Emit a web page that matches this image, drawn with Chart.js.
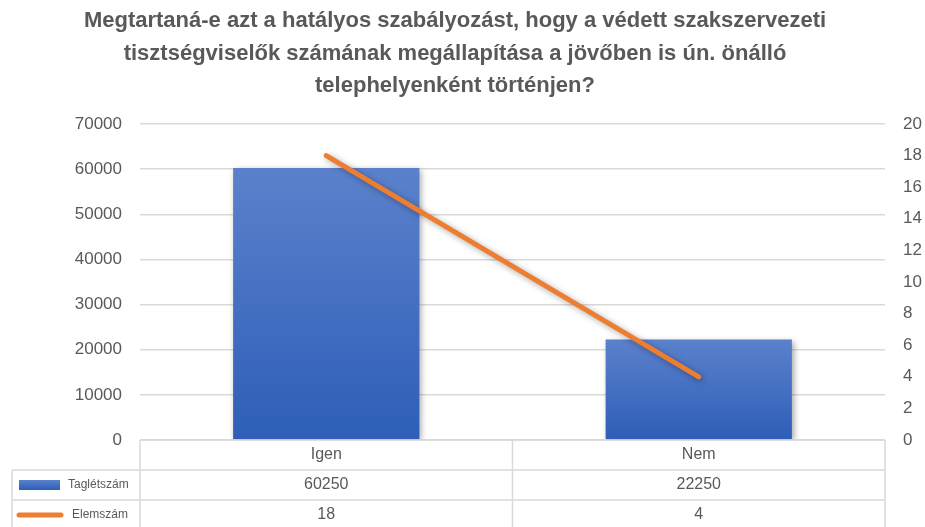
<!DOCTYPE html>
<html>
<head>
<meta charset="utf-8">
<script src="https://cdn.jsdelivr.net/npm/chart.js@4.4.1/dist/chart.umd.min.js"></script>
<style>
  html, body { margin: 0; padding: 0; background: #fff; }
  #wrap { width: 925px; height: 527px; }
</style>
</head>
<body>
<div id="wrap"><canvas id="chart" width="925" height="527"></canvas></div>
<script>
const titleLines = [
  'Megtartaná-e azt a hatályos szabályozást, hogy a védett szakszervezeti',
  'tisztségviselők számának megállapítása a jövőben is ún. önálló',
  'telephelyenként történjen?'
]
const categories = ['Igen', 'Nem']
const taglétszám = [60250, 22250]
const elemszám = [18, 4]
const leftTicks = [0, 10000, 20000, 30000, 40000, 50000, 60000, 70000]
const rightTicks = [0, 2, 4, 6, 8, 10, 12, 14, 16, 18, 20]

const gray = '#595959'
const gridColor = '#D9D9D9'
const fontFamily = "'Liberation Sans', Arial, sans-serif"

function barGradient(context){
    const chart = context.chart
    if (!chart.chartArea) return '#4472C4'
    const y = chart.scales.y
    const v = context.raw || 0
    const top = y.getPixelForValue(v)
    const bottom = y.getPixelForValue(0)
    const g = chart.ctx.createLinearGradient(0, top, 0, bottom)
    g.addColorStop(0, '#5B81CC')
    g.addColorStop(1, '#2E5EB8')
    return g
}

// shadow under bars and line
const shadowPlugin = {
    id: 'shadow',
    beforeDatasetDraw(chart){
        const ctx = chart.ctx
        ctx.save()
        ctx.shadowColor = 'rgba(0,0,0,0.35)'
        ctx.shadowBlur = 6
        ctx.shadowOffsetX = 2
        ctx.shadowOffsetY = 2
    },
    afterDatasetDraw(chart){
        chart.ctx.restore()
    }
}

const titlePlugin = {
    id: 'bigTitle',
    afterDraw(chart){
        const ctx = chart.ctx
        ctx.save()
        ctx.fillStyle = gray
        ctx.font = "bold 22px " + fontFamily
        ctx.textAlign = 'center'
        ctx.textBaseline = 'middle'
        titleLines.forEach((line, i) => {
            ctx.fillText(line, 455, 21 + i * 32.5)
        })
        ctx.restore()
    }
}

// data table under the plot
const tablePlugin = {
    id: 'dataTable',
    afterDraw(chart){
        const ctx = chart.ctx
        const area = chart.chartArea
        const x = chart.scales.x
        const rowH = 30
        const top = area.bottom
        const legendLeft = 12
        const half = (x.getPixelForValue(1) - x.getPixelForValue(0)) / 2

        ctx.save()
        ctx.strokeStyle = gridColor
        ctx.lineWidth = 1.5
        ctx.beginPath()
        ctx.moveTo(area.left, top); ctx.lineTo(area.right, top)
        ctx.moveTo(legendLeft, top + rowH); ctx.lineTo(area.right, top + rowH)
        ctx.moveTo(legendLeft, top + rowH * 2); ctx.lineTo(area.right, top + rowH * 2)
        ctx.moveTo(legendLeft, top + rowH); ctx.lineTo(legendLeft, chart.height)
        categories.forEach((c, i) => {
            const cx = x.getPixelForValue(i)
            ctx.moveTo(cx - half, top); ctx.lineTo(cx - half, chart.height)
        })
        ctx.moveTo(area.right, top); ctx.lineTo(area.right, chart.height)
        ctx.stroke()

        ctx.fillStyle = gray
        ctx.font = "16px " + fontFamily
        ctx.textAlign = 'center'
        ctx.textBaseline = 'middle'
        categories.forEach((c, i) => {
            const cx = x.getPixelForValue(i)
            ctx.fillText(c, cx, top + rowH / 2)
            ctx.fillText(String(taglétszám[i]), cx, top + rowH * 1.5)
            ctx.fillText(String(elemszám[i]), cx, top + rowH * 2.5)
        })

        // legend keys
        const r1 = top + rowH * 1.5
        const r2 = top + rowH * 2.5
        const g = ctx.createLinearGradient(0, r1 - 5, 0, r1 + 5)
        g.addColorStop(0, '#5B81CC')
        g.addColorStop(1, '#2E5EB8')
        ctx.fillStyle = g
        ctx.fillRect(19, r1 - 5, 41, 10)
        ctx.strokeStyle = '#ED7D31'
        ctx.lineWidth = 5
        ctx.lineCap = 'round'
        ctx.beginPath()
        ctx.moveTo(19, r2); ctx.lineTo(61, r2)
        ctx.stroke()

        ctx.fillStyle = gray
        ctx.font = "12px " + fontFamily
        ctx.textAlign = 'left'
        ctx.fillText('Taglétszám', 68, r1)
        ctx.fillText('Elemszám', 72, r2)
        ctx.restore()
    }
}

new Chart(document.querySelector('#chart'), {
    type: 'bar',
    data: {
        labels: categories,
        datasets: [{
            type: 'line',
            label: 'Elemszám',
            data: elemszám,
            yAxisID: 'y1',
            borderColor: '#ED7D31',
            borderWidth: 5,
            borderCapStyle: 'round',
            pointRadius: 0,
            tension: 0,
            order: 0
        }, {
            type: 'bar',
            label: 'Taglétszám',
            data: taglétszám,
            yAxisID: 'y',
            backgroundColor: barGradient,
            barPercentage: 0.5,
            categoryPercentage: 1,
            order: 1
        }]
    },
    options: {
        responsive: false,
        animation: false,
        layout: { padding: { top: 124, bottom: 87, left: 0, right: 0 } },
        plugins: {
            legend: { display: false },
            title: { display: false },
            tooltip: { enabled: false }
        },
        scales: {
            x: { display: false },
            y: {
                position: 'left',
                min: leftTicks[0],
                max: leftTicks[leftTicks.length - 1],
                afterBuildTicks: (s) => { s.ticks = leftTicks.map(v => ({ value: v })) },
                afterFit: (s) => { s.width = 140 },
                grid: { color: gridColor, lineWidth: 1.5, drawTicks: false },
                border: { display: false },
                ticks: { color: gray, padding: 18, font: { family: fontFamily, size: 17 }, callback: (v) => String(v) }
            },
            y1: {
                position: 'right',
                min: rightTicks[0],
                max: rightTicks[rightTicks.length - 1],
                afterBuildTicks: (s) => { s.ticks = rightTicks.map(v => ({ value: v })) },
                afterFit: (s) => { s.width = 40 },
                grid: { display: false, drawTicks: false },
                border: { display: false },
                ticks: { color: gray, padding: 18, font: { family: fontFamily, size: 17 }, callback: (v) => String(v) }
            }
        }
    },
    plugins: [shadowPlugin, titlePlugin, tablePlugin]
})
</script>
</body>
</html>
